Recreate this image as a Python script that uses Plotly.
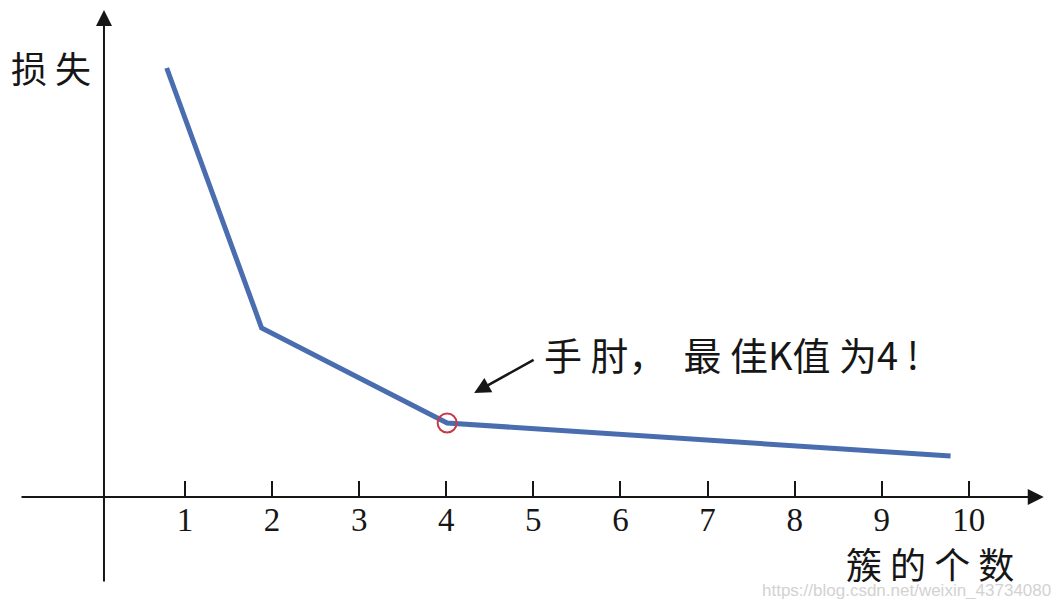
import plotly.graph_objects as go

# values (loss axis: 1 unit = 100 px)
k_values = [0.79, 1.88, 4.01, 9.79]
loss_values = [4.29, 1.69, 0.74, 0.41]
elbow_index = 2

tick_values = [1, 2, 3, 4, 5, 6, 7, 8, 9, 10]
tick_labels = ['1', '2', '3', '4', '5', '6', '7', '8', '9', '10']

x_title = '簇 的 个 数'
y_title = '损 失'
note_text = '手 肘，  最 佳K值 为4 !'
watermark = 'https://blog.csdn.net/weixin_43734080'

# the page body adds an 8px margin, so the figure is a bit smaller than the window
W, H = 1045, 591
x_range = [-1.032, 10.966]
y_range = [-1.02, 4.89]

ink = '#161616'
cjk_font = 'Noto Sans CJK SC'

fig = go.Figure()

# the curve
fig.add_trace(go.Scatter(
    x = k_values,
    y = loss_values,
    mode = 'lines',
    line = dict(color = '#4a6db0', width = 5),
    hoverinfo = 'skip',
))

# red ring on the elbow
fig.add_trace(go.Scatter(
    x = [k_values[elbow_index]],
    y = [loss_values[elbow_index]],
    mode = 'markers',
    marker = dict(symbol = 'circle-open', size = 19, color = '#c93a45', line = dict(width = 2)),
    hoverinfo = 'skip',
))

annotations = [
    # x axis with arrow
    dict(x = 10.86, y = 0, ax = -0.894, ay = 0, xref = 'x', yref = 'y', axref = 'x', ayref = 'y',
         text = '', showarrow = True, arrowhead = 2, arrowsize = 1.6, arrowwidth = 2, arrowcolor = ink),
    # y axis with arrow
    dict(x = 0.07, y = 4.87, ax = 0.07, ay = -0.86, xref = 'x', yref = 'y', axref = 'x', ayref = 'y',
         text = '', showarrow = True, arrowhead = 2, arrowsize = 1.6, arrowwidth = 2, arrowcolor = ink),
    # pointer to the elbow
    dict(x = 4.32, y = 1.04, ax = 5.02, ay = 1.38, xref = 'x', yref = 'y', axref = 'x', ayref = 'y',
         text = '', showarrow = True, arrowhead = 2, arrowsize = 1.3, arrowwidth = 2.5, arrowcolor = ink),
    dict(x = 5.10, y = 1.44, xref = 'x', yref = 'y', text = note_text, showarrow = False,
         xanchor = 'left', yanchor = 'middle', font = dict(family = cjk_font, size = 38, color = ink)),
    dict(x = -0.54, y = 4.30, xref = 'x', yref = 'y', text = y_title, showarrow = False,
         xanchor = 'center', yanchor = 'middle', font = dict(family = cjk_font, size = 36, color = ink)),
    dict(x = 9.55, y = -0.66, xref = 'x', yref = 'y', text = x_title, showarrow = False,
         xanchor = 'center', yanchor = 'middle', font = dict(family = cjk_font, size = 36, color = ink)),
    dict(x = 1.0, y = 9 / H, xref = 'paper', yref = 'paper', text = watermark, showarrow = False,
         xanchor = 'right', yanchor = 'middle',
         font = dict(family = 'Liberation Sans Narrow, Liberation Sans', size = 17, color = '#d2d2d2')),
]

fig.update_layout(
    width = W,
    height = H,
    margin = dict(l = 0, r = 0, t = 0, b = 0),
    paper_bgcolor = 'white',
    plot_bgcolor = 'white',
    showlegend = False,
    annotations = annotations,
    xaxis = dict(
        range = x_range,
        anchor = 'free',
        position = 102 / H,
        tickvals = tick_values,
        ticktext = tick_labels,
        ticks = 'inside',
        ticklen = 16,
        tickwidth = 2,
        tickcolor = ink,
        tickfont = dict(family = 'Liberation Serif', size = 33, color = ink),
        showgrid = False,
        zeroline = False,
        showline = False,
        automargin = False,
        fixedrange = True,
    ),
    yaxis = dict(
        range = y_range,
        visible = False,
        automargin = False,
        fixedrange = True,
    ),
)

fig.write_html('out.html')
